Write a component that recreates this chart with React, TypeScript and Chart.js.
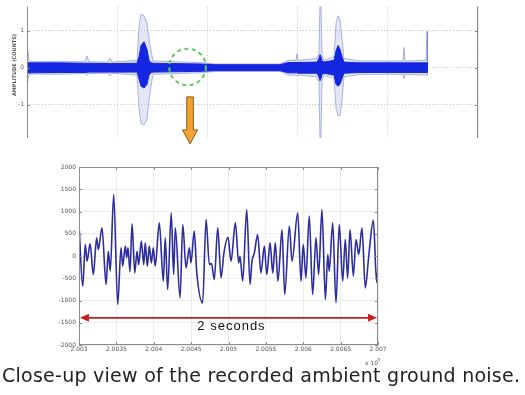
import React, { useEffect, useLayoutEffect, useRef } from "react";
import { Chart, registerables } from "chart.js";
Chart.register(...registerables);

// ---- Top overview trace (envelope), x in grid units 0..5
const topX = [0, 0.011, 0.033, 0.366, 0.643, 0.665, 0.687, 0.898, 0.92, 0.942,
  1.22, 1.242, 1.264, 1.297, 1.33, 1.353, 1.375, 1.397,
  1.918, 2.084, 2.805, 2.894, 2.982, 2.993, 3.004,
  3.215, 3.237, 3.248, 3.259, 3.271, 3.293,
  3.404, 3.426, 3.448, 3.47, 3.492, 3.514,
  3.692, 4.169, 4.18, 4.191, 4.401, 4.424, 4.435, 4.44];
const topCoreUpper = [0.14, 0.14, 0.13, 0.13, 0.12, 0.12, 0.12, 0.11, 0.11, 0.11,
  0.12, 0.3, 0.6, 0.7, 0.5, 0.2, 0.13, 0.12,
  0.1, 0.08, 0.08, 0.14, 0.14, 0.14, 0.14,
  0.15, 0.25, 0.35, 0.3, 0.18, 0.15,
  0.2, 0.45, 0.6, 0.5, 0.3, 0.15,
  0.13, 0.13, 0.13, 0.13, 0.13, 0.13, 0.13, 0];
const topCoreLower = [-0.15, -0.15, -0.14, -0.13, -0.13, -0.13, -0.12, -0.12, -0.12, -0.12,
  -0.12, -0.3, -0.5, -0.55, -0.45, -0.2, -0.13, -0.12,
  -0.1, -0.08, -0.08, -0.14, -0.14, -0.14, -0.15,
  -0.15, -0.25, -0.35, -0.3, -0.18, -0.15,
  -0.2, -0.45, -0.5, -0.45, -0.3, -0.15,
  -0.13, -0.13, -0.13, -0.13, -0.13, -0.13, -0.13, 0];
const topOuterUpper = [0.45, 0.3, 0.16, 0.17, 0.16, 0.32, 0.16, 0.15, 0.25, 0.15,
  0.2, 1.1, 1.45, 1.4, 1.2, 0.8, 0.45, 0.18,
  0.14, 0.1, 0.1, 0.2, 0.2, 0.38, 0.2,
  0.25, 0.4, 1.75, 1.75, 0.35, 0.2,
  0.3, 1.2, 1.4, 1.3, 0.8, 0.25,
  0.18, 0.18, 0.55, 0.18, 0.2, 0.2, 0.98, 0];
const topOuterLower = [-0.38, -0.3, -0.17, -0.18, -0.16, -0.2, -0.16, -0.15, -0.22, -0.15,
  -0.2, -1.1, -1.5, -1.55, -1.4, -0.9, -0.5, -0.18,
  -0.14, -0.1, -0.1, -0.2, -0.2, -0.22, -0.2,
  -0.25, -0.4, -1.95, -1.95, -0.35, -0.2,
  -0.3, -1.1, -1.3, -1.3, -0.9, -0.25,
  -0.18, -0.18, -0.3, -0.18, -0.2, -0.2, -0.2, 0];
const topYTicks = [-1, 0, 1];
const topYTitle = "AMPLITUDE (COUNTS)";

// ---- Close-up trace: extrema, t in seconds (0..2)
const closeT = [0, 0.025, 0.042, 0.054, 0.074, 0.096, 0.118, 0.129, 0.154, 0.181,
  0.196, 0.209, 0.232, 0.259, 0.281, 0.292, 0.31, 0.319, 0.328, 0.341,
  0.355, 0.373, 0.388, 0.399, 0.417, 0.433, 0.443, 0.457, 0.47, 0.484,
  0.497, 0.51, 0.537, 0.564, 0.577, 0.593, 0.617, 0.633, 0.644, 0.676,
  0.694, 0.716, 0.738, 0.749, 0.771, 0.787, 0.827, 0.85, 0.872, 0.886,
  0.905, 0.928, 0.95, 0.97, 0.997, 1.017, 1.046, 1.068, 1.077, 1.095,
  1.122, 1.144, 1.157, 1.173, 1.195, 1.217, 1.24, 1.256, 1.278, 1.296,
  1.313, 1.331, 1.358, 1.376, 1.407, 1.425, 1.463, 1.485, 1.5, 1.518,
  1.54, 1.563, 1.585, 1.603, 1.625, 1.648, 1.664, 1.674, 1.697, 1.719,
  1.741, 1.764, 1.781, 1.797, 1.813, 1.835, 1.853, 1.871, 1.893, 1.915,
  1.938, 1.969, 1.991, 2.0];
const closeV = [708, -678, 258, -117, 274, -416, 408, 146, 633, -640,
  108, -341, 1382, -1090, 184, -229, 221, -37, 184, -356,
  723, -380, 108, -192, 334, -192, 296, -229, 221, -154,
  184, -229, 746, -566, 408, -753, 970, -416, 633, -940,
  708, -267, 184, -154, 558, -341, -1053, 820, -190, -170,
  -528, 633, -491, 80, 420, -117, 746, -154, -5, -566,
  1045, -640, -117, 71, 483, -380, 221, -416, 296, -380,
  296, -566, 596, -866, 671, -117, 970, -566, 258, -491,
  895, -866, 408, -416, 1045, -978, 33, -341, 746, -1053,
  708, -566, 371, -491, 596, -453, 371, 33, 633, -716,
  -5, 800, -595, -258];
const closeXTickLabels = ["2.003", "2.0035", "2.004", "2.0045", "2.005", "2.0055", "2.006", "2.0065", "2.007"];
const closeYTicks = [-2000, -1500, -1000, -500, 0, 500, 1000, 1500, 2000];
const closeSpanLabel = "2 seconds";
const closeSpanValue = -1390;
const closeExponent = "5";
const captionText = "Close-up view of the recorded ambient ground noise.";

export default function App() {
  const topRef = useRef<HTMLCanvasElement>(null);
  const botRef = useRef<HTMLCanvasElement>(null);
  const capRef = useRef<HTMLDivElement>(null);

  useLayoutEffect(() => {
    const el = capRef.current;
    if (!el) return;
    el.style.letterSpacing = "0px";
    const w = el.getBoundingClientRect().width;
    const ls = (518 - w) / (captionText.length - 1);
    el.style.letterSpacing = ls + "px";
  }, []);

  useEffect(() => {
    const topOverlay = {
      id: "topOverlay",
      afterDraw(chart: any) {
        const ctx = chart.ctx;
        const a = chart.chartArea;
        const xs = chart.scales.x;
        const ys = chart.scales.y;
        ctx.save();
        ctx.strokeStyle = "#8a8a8a";
        ctx.lineWidth = 1;
        ctx.beginPath();
        ctx.moveTo(a.left + 0.5, a.top);
        ctx.lineTo(a.left + 0.5, a.bottom);
        ctx.moveTo(a.right - 0.5, a.top);
        ctx.lineTo(a.right - 0.5, a.bottom);
        topYTicks.forEach((v) => {
          const y = Math.round(ys.getPixelForValue(v)) + 0.5;
          ctx.moveTo(a.left, y);
          ctx.lineTo(a.left + 3, y);
          ctx.moveTo(a.right, y);
          ctx.lineTo(a.right - 3, y);
        });
        ctx.stroke();
        // y title
        ctx.fillStyle = "#555";
        ctx.font = "bold 5px 'DejaVu Sans'";
        ctx.textAlign = "center";
        ctx.textBaseline = "middle";
        ctx.translate(15, 65);
        ctx.rotate(-Math.PI / 2);
        ctx.fillText(topYTitle, 0, 0);
        ctx.restore();

        // green dashed circle
        const cx = xs.getPixelForValue(1.78);
        const cy = ys.getPixelForValue(0.02);
        ctx.save();
        ctx.strokeStyle = "#5cc85c";
        ctx.lineWidth = 2;
        ctx.setLineDash([4, 3.5]);
        ctx.beginPath();
        ctx.arc(cx, cy, 18.3, 0, Math.PI * 2);
        ctx.stroke();
        ctx.restore();

        // orange arrow
        const ax = cx + 2.5;
        const t0 = cy + 30;
        const t1 = cy + 63;
        const t2 = cy + 77;
        ctx.save();
        ctx.fillStyle = "#f0a232";
        ctx.strokeStyle = "#8a5a14";
        ctx.lineWidth = 1;
        ctx.beginPath();
        ctx.moveTo(ax - 3.3, t0);
        ctx.lineTo(ax + 3.3, t0);
        ctx.lineTo(ax + 3.3, t1);
        ctx.lineTo(ax + 7.5, t1);
        ctx.lineTo(ax, t2);
        ctx.lineTo(ax - 7.5, t1);
        ctx.lineTo(ax - 3.3, t1);
        ctx.closePath();
        ctx.fill();
        ctx.stroke();
        ctx.restore();
      },
    };

    const topChart = new Chart(topRef.current!, {
      type: "line",
      data: {
        datasets: [
          {
            data: topX.map((x, i) => ({ x, y: topCoreUpper[i] })),
            borderColor: "#1426e0",
            backgroundColor: "#1426e0",
            borderWidth: 1,
            pointRadius: 0,
            tension: 0,
            fill: "+1",
          },
          {
            data: topX.map((x, i) => ({ x, y: topCoreLower[i] })),
            borderColor: "#1426e0",
            borderWidth: 1,
            pointRadius: 0,
            tension: 0,
            fill: false,
          },
          {
            data: topX.map((x, i) => ({ x, y: topOuterUpper[i] })),
            borderColor: "rgba(90,105,200,0.6)",
            backgroundColor: "rgba(130,140,210,0.22)",
            borderWidth: 0.8,
            pointRadius: 0,
            tension: 0,
            fill: "+1",
          },
          {
            data: topX.map((x, i) => ({ x, y: topOuterLower[i] })),
            borderColor: "rgba(90,105,200,0.6)",
            borderWidth: 0.8,
            pointRadius: 0,
            tension: 0,
            fill: false,
          },
        ],
      },
      options: {
        animation: false,
        responsive: false,
        events: [],
        layout: { padding: { left: 0, right: 47, top: 5, bottom: 0 } },
        plugins: { legend: { display: false }, tooltip: { enabled: false } },
        scales: {
          x: {
            type: "linear",
            min: 0,
            max: 5,
            ticks: { display: false, stepSize: 1 },
            grid: { color: "#b8b8b8", lineWidth: 0.8, drawTicks: false },
            border: { display: false, dash: [1, 2] },
            afterFit: (s: any) => { s.height = 12; },
          },
          y: {
            min: -1.9,
            max: 1.65,
            afterBuildTicks: (s: any) => { s.ticks = topYTicks.map((v) => ({ value: v })); },
            ticks: { font: { size: 6, family: "'DejaVu Sans'" }, color: "#666", padding: 3, callback: (v: any) => String(v) },
            grid: { color: "#b8b8b8", lineWidth: 0.8, drawTicks: false },
            border: { display: false, dash: [1, 2] },
            afterFit: (s: any) => { s.width = 27; },
          },
        },
      },
      plugins: [topOverlay],
    } as any);

    const botOverlay = {
      id: "botOverlay",
      afterDraw(chart: any) {
        const ctx = chart.ctx;
        const a = chart.chartArea;
        const xs = chart.scales.x;
        const ys = chart.scales.y;
        ctx.save();
        ctx.strokeStyle = "#8c8c8c";
        ctx.lineWidth = 1;
        ctx.strokeRect(Math.round(a.left) + 0.5, Math.round(a.top) + 0.5, Math.round(a.right - a.left) - 1, Math.round(a.bottom - a.top) - 1);
        ctx.beginPath();
        closeYTicks.forEach((v) => {
          const y = Math.round(ys.getPixelForValue(v)) + 0.5;
          ctx.moveTo(a.left, y);
          ctx.lineTo(a.left + 3, y);
          ctx.moveTo(a.right, y);
          ctx.lineTo(a.right - 3, y);
        });
        closeXTickLabels.forEach((_, i) => {
          const x = Math.round(xs.getPixelForValue(i * 0.25)) + 0.5;
          ctx.moveTo(x, a.bottom);
          ctx.lineTo(x, a.bottom - 3);
          ctx.moveTo(x, a.top);
          ctx.lineTo(x, a.top + 3);
        });
        ctx.stroke();

        // red double arrow
        const y = ys.getPixelForValue(closeSpanValue);
        const l = a.left + 1;
        const r = a.right - 1;
        ctx.strokeStyle = "#c8201e";
        ctx.fillStyle = "#c8201e";
        ctx.lineWidth = 1.6;
        ctx.beginPath();
        ctx.moveTo(l + 6, y);
        ctx.lineTo(r - 6, y);
        ctx.stroke();
        ctx.beginPath();
        ctx.moveTo(l, y);
        ctx.lineTo(l + 9, y - 4);
        ctx.lineTo(l + 9, y + 4);
        ctx.closePath();
        ctx.fill();
        ctx.beginPath();
        ctx.moveTo(r, y);
        ctx.lineTo(r - 9, y - 4);
        ctx.lineTo(r - 9, y + 4);
        ctx.closePath();
        ctx.fill();

        ctx.fillStyle = "#111";
        ctx.font = "13px 'Liberation Sans'";
        (ctx as any).letterSpacing = "1px";
        ctx.textAlign = "center";
        ctx.textBaseline = "middle";
        ctx.fillText(closeSpanLabel, xs.getPixelForValue(1.02), y + 9);
        (ctx as any).letterSpacing = "0px";

        // exponent label
        ctx.fillStyle = "#555";
        ctx.font = "6px 'DejaVu Sans'";
        ctx.textAlign = "left";
        ctx.textBaseline = "alphabetic";
        ctx.fillText("x 10", a.right - 13, a.bottom + 20);
        ctx.font = "4px 'DejaVu Sans'";
        ctx.fillText(closeExponent, a.right - 0.5, a.bottom + 16);
        ctx.restore();
      },
    };

    const botChart = new Chart(botRef.current!, {
      type: "line",
      data: {
        datasets: [
          {
            data: closeT.map((x, i) => ({ x, y: closeV[i] })),
            borderColor: "#2c2c9e",
            borderWidth: 1.6,
            pointRadius: 0,
            cubicInterpolationMode: "monotone",
            fill: false,
          },
        ],
      },
      options: {
        animation: false,
        responsive: false,
        events: [],
        layout: { padding: { left: 0, right: 147, top: 17, bottom: 0 } },
        plugins: { legend: { display: false }, tooltip: { enabled: false } },
        scales: {
          x: {
            type: "linear",
            min: 0,
            max: 2,
            ticks: {
              stepSize: 0.25,
              autoSkip: false,
              maxRotation: 0,
              font: { size: 6, family: "'DejaVu Sans'" },
              color: "#555",
              padding: 1,
              callback: (v: any) => closeXTickLabels[Math.round(Number(v) / 0.25)] ?? "",
            },
            grid: { color: "#ededed", lineWidth: 1, drawTicks: false },
            border: { display: false },
            afterFit: (s: any) => { s.height = 25; },
          },
          y: {
            min: -2000,
            max: 2000,
            afterBuildTicks: (s: any) => { s.ticks = closeYTicks.map((v) => ({ value: v })); },
            ticks: { font: { size: 6, family: "'DejaVu Sans'" }, color: "#555", padding: 3, callback: (v: any) => String(v) },
            grid: { color: "#ededed", lineWidth: 1, drawTicks: false },
            border: { display: false },
            afterFit: (s: any) => { s.width = 79; },
          },
        },
      },
      plugins: [botOverlay],
    } as any);

    return () => {
      topChart.destroy();
      botChart.destroy();
    };
  }, []);

  return (
    <div style={{ position: "absolute", left: 0, top: 0, width: 525, height: 395, background: "#fff", overflow: "hidden" }}>
      <canvas ref={topRef} width={525} height={150} style={{ position: "absolute", left: 0, top: 0, width: 525, height: 150 }} />
      <canvas ref={botRef} width={525} height={220} style={{ position: "absolute", left: 0, top: 150, width: 525, height: 220 }} />
      <div
        ref={capRef}
        style={{
          position: "absolute",
          left: 2,
          top: 366,
          whiteSpace: "nowrap",
          fontFamily: "'DejaVu Sans'",
          fontSize: 19,
          lineHeight: 1,
          color: "#222",
        }}
      >
        {captionText}
      </div>
    </div>
  );
}
